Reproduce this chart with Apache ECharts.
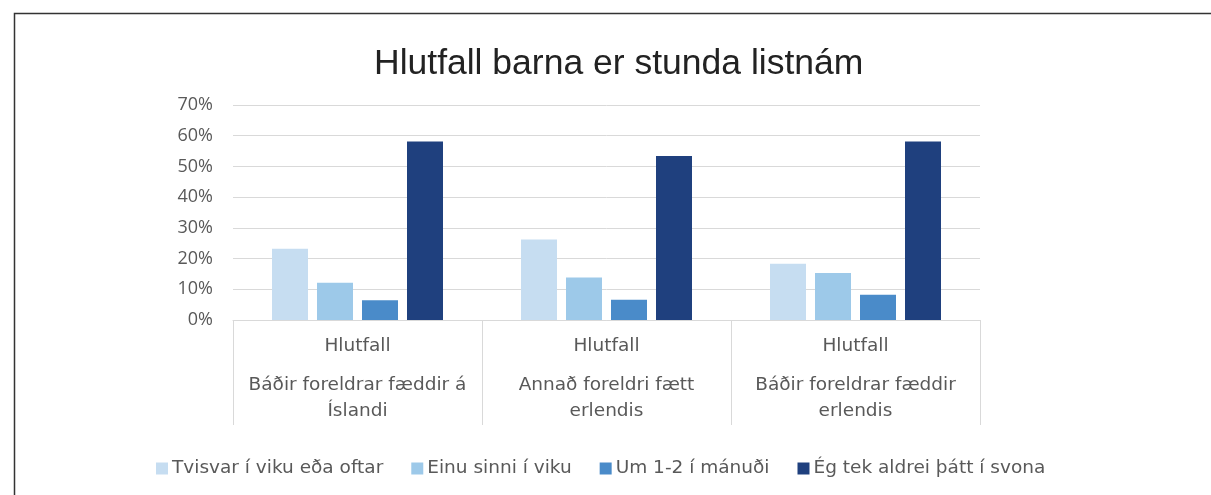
<!DOCTYPE html>
<html>
<head>
<meta charset="utf-8">
<script src="https://cdn.jsdelivr.net/npm/echarts@6/dist/echarts.min.js"></script>
<style>
html,body{margin:0;padding:0;background:#fff;}
#main{width:1211px;height:495px;}
</style>
</head>
<body>
<div id="main"></div>
<script>
const titleText = 'Hlutfall barna er stunda listnám';
const groupLabel = 'Hlutfall';
const categories = ['Báðir foreldrar fæddir á\nÍslandi', 'Annað foreldri fætt\nerlendis', 'Báðir foreldrar fæddir\nerlendis'];
const seriesNames = ['Tvisvar í viku eða oftar', 'Einu sinni í viku', 'Um 1-2 í mánuði', 'Ég tek aldrei þátt í svona'];
const tvisvar = [0.232, 0.262, 0.183];
const einu = [0.121, 0.138, 0.153];
const um12 = [0.064, 0.066, 0.082];
const aldrei = [0.581, 0.534, 0.581];
const yTicks = [0, 0.1, 0.2, 0.3, 0.4, 0.5, 0.6, 0.7];

const colors = ['#C6DDF1', '#9DC9E9', '#4A8BC9', '#1F407E'];
const values = [tvisvar, einu, um12, aldrei];
const FONT = '"DejaVu Sans", "Open Sans", sans-serif';
const YFONT = '"Open Sans", "Noto Sans", sans-serif';

const chart = echarts.init(document.getElementById('main'));
chart.setOption({
  animation: false,
  backgroundColor: '#fff',
  graphic: [{
    type: 'rect', left: 12, top: 11,
    shape: {width: 1400, height: 700},
    style: {fill: 'none', stroke: '#333', lineWidth: 1.5},
    silent: true
  }],
  title: {
    text: titleText,
    left: 369, top: 41,
    textStyle: {fontFamily: '"Liberation Sans", Arial, sans-serif', fontSize: 35.5, fontWeight: 'normal', color: '#222'}
  },
  legend: {
    left: 151, top: 454,
    itemWidth: 12, itemHeight: 12, itemGap: 28,
    icon: 'rect',
    textStyle: {fontFamily: FONT, fontSize: 18.5, color: '#595959', padding: [0, 0, 0, -1]},
    data: seriesNames
  },
  grid: {left: 233, right: 231, top: 105, bottom: 175, containLabel: false},
  xAxis: {
    type: 'category',
    data: categories,
    axisLine: {show: true, lineStyle: {color: '#d9d9d9', width: 1}},
    axisTick: {show: true, length: 105, interval: 0, lineStyle: {color: '#d9d9d9', width: 1}},
    axisLabel: {
      interval: 0, margin: 0,
      formatter: function (v) { return '{a|' + groupLabel + '}\n{b|' + v + '}'; },
      rich: {
        a: {fontFamily: FONT, fontSize: 18.5, color: '#595959', lineHeight: 52},
        b: {fontFamily: FONT, fontSize: 18.5, color: '#595959', lineHeight: 26}
      }
    }
  },
  yAxis: {
    type: 'value', min: 0, max: 0.7, interval: 0.1,
    axisLine: {show: false}, axisTick: {show: false},
    splitLine: {lineStyle: {color: '#d9d9d9', width: 1}},
    axisLabel: {
      margin: 20, fontFamily: YFONT, fontSize: 18, color: '#595959',
      formatter: function (v) { return Math.round(v * 100) + '%'; }
    }
  },
  series: seriesNames.map(function (n, i) {
    return {
      name: n, type: 'bar', data: values[i],
      barWidth: 36, barGap: '25%',
      itemStyle: {color: colors[i]}
    };
  })
});
</script>
</body>
</html>
